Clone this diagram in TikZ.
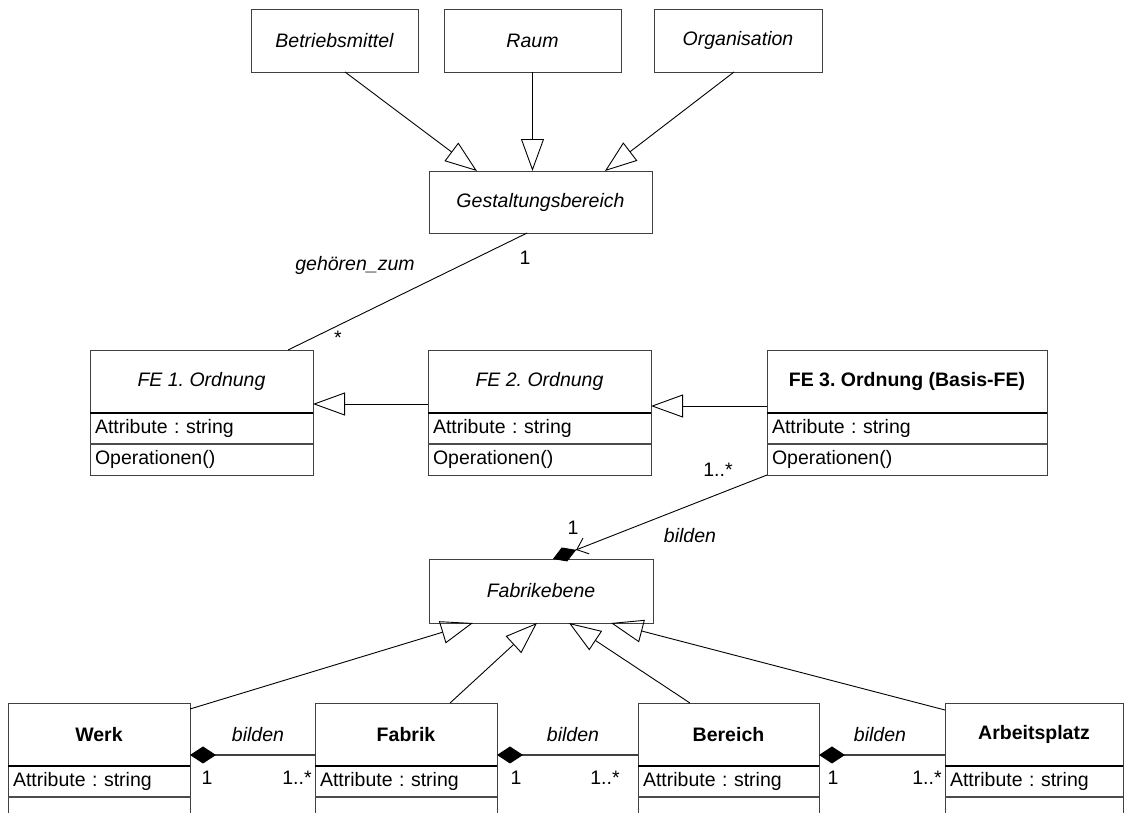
\documentclass[tikz,border=0pt]{standalone}
\usepackage{fontspec}
\setmainfont{Liberation Sans}
\usetikzlibrary{arrows.meta,calc}
\frenchspacing

% class symbol: title compartment, attribute row, operation row
\newcommand{\umlclass}[7]{%
  \pgfmathsetmacro{\rowtw}{#4-10}%
  \node[head, minimum width=#4pt] (#1) at (#2,#3) {#5};
  \node[row, text width=\rowtw pt] (#1a) at (#1.south west) {#6};
  \node[row, text width=\rowtw pt] (#1o) at (#1a.south west) {#7};
  \draw[outline] (#1.north west) rectangle (#1o.south east);
  \draw[sepmajor] (#1a.north west) -- (#1a.north east);
  \draw[sepminor] (#1o.north west) -- (#1o.north east);
}

\begin{document}
\begin{tikzpicture}[x=1pt,y=-1pt,
  every node/.style={font=\fontsize{19.5}{23}\selectfont},
  simplebox/.style={draw=black!75, line width=1pt, inner sep=0pt, outer sep=0pt,
    anchor=north west, align=center, font=\fontsize{19.5}{23}\selectfont\itshape},
  head/.style={inner sep=0pt, outer sep=0pt, anchor=north west, minimum height=63pt, align=center},
  row/.style={inner xsep=5pt, inner ysep=0pt, outer sep=0pt, anchor=north west,
    align=left, minimum height=31pt},
  outline/.style={draw=black!75, line width=1pt},
  sepmajor/.style={draw=black, line width=1.8pt},
  sepminor/.style={draw=black!70, line width=1.4pt},
  conn/.style={draw=black, line width=0.9pt},
  gen/.style={conn, -{Triangle[open, length=32pt, width=23pt, line width=0.9pt]}},
  comp/.style={draw=black!75, line width=1.1pt, -{Diamond[length=26pt, width=17pt, color=black, fill=black]}},
  compnav/.style={conn, -{Straight Barb[length=10pt, width=17pt, sep=0pt, line width=0.9pt]Diamond[length=25pt, width=15pt, sep=0pt, fill=black]}},
  lbl/.style={inner sep=0pt, font=\fontsize{19.5}{23}\selectfont},
  ilbl/.style={inner sep=0pt, font=\fontsize{19.5}{23}\selectfont\itshape}
]
\useasboundingbox (0,0) rectangle (1125,812);
\clip (0,0) rectangle (1125,812);

% top level generalisation
\node[simplebox, minimum width=167pt, minimum height=63pt] (betr) at (251,9) {Betriebsmittel};
\node[simplebox, minimum width=177pt, minimum height=63pt] (raum) at (444,9) {Raum};
\node[simplebox, minimum width=168pt, minimum height=63pt] (orga) at (654,9) {Organisation};
\node[simplebox, minimum width=223pt, minimum height=62pt] (gest) at (429,171) {Gestaltungsbereich};

\draw[gen] ($(betr.south west)!0.563!(betr.south east)$) -- ($(gest.north west)!0.215!(gest.north east)$);
\draw[gen] ($(raum.south west)!0.5!(raum.south east)$) -- ($(gest.north west)!0.464!(gest.north east)$);
\draw[gen] ($(orga.south west)!0.476!(orga.south east)$) -- ($(gest.north west)!0.789!(gest.north east)$);

% levels of the design elements
\umlclass{fe1}{90}{350}{223}{\itshape FE 1. Ordnung}{Attribute : string}{Operationen()}
\umlclass{fe2}{428}{350}{223}{\itshape FE 2. Ordnung}{Attribute : string}{Operationen()}
\umlclass{fe3}{767}{350}{280}{\bfseries FE 3. Ordnung (Basis-FE)}{Attribute : string}{Operationen()}

\draw[conn] ($(gest.south west)!0.44!(gest.south east)$) -- ($(fe1.north west)!0.888!(fe1.north east)$);
\node[ilbl] (lgz) at (355,265) {gehören\_zum};
\node[lbl] (lgz1) at (525,258) {1};
\node[lbl] (lgzs) at (338,338) {*};

\coordinate (g21) at ($(fe2.north west)!0.857!(fe2.south west)$);
\draw[gen] (g21) -- (g21 -| fe1.east);
\coordinate (g32) at ($(fe3.north west)!0.889!(fe3.south west)$);
\draw[gen] (g32) -- (g32 -| fe2.east);

% factory levels
\node[simplebox, minimum width=224pt, minimum height=64pt] (fab) at (429,559) {Fabrikebene};

\draw[compnav] (fe3o.south west) -- ($(fab.north west)!0.553!(fab.north east)$);
\node[lbl] (lfe3m) at (718,470) {1..*};
\node[lbl] (lfab1) at (573,528) {1};
\node[ilbl] (lfabb) at (690,536) {bilden};

\umlclass{werk}{8}{703}{182}{\bfseries Werk}{Attribute : string}{}
\umlclass{fabrik}{315}{703}{182}{\bfseries Fabrik}{Attribute : string}{}
\umlclass{bereich}{638}{703}{181}{\bfseries Bereich}{Attribute : string}{}
\umlclass{arbeit}{945}{703}{178}{\bfseries Arbeitsplatz}{Attribute : string}{}

\draw[gen] ($(werk.north east)+(0,6)$) -- ($(fab.south west)!0.196!(fab.south east)$);
\draw[gen] ($(fabrik.north west)!0.742!(fabrik.north east)$) -- ($(fab.south west)!0.482!(fab.south east)$);
\draw[gen] ($(bereich.north west)!0.287!(bereich.north east)$) -- ($(fab.south west)!0.625!(fab.south east)$);
\draw[gen] ($(arbeit.north west)+(0,7)$) -- ($(fab.south west)!0.8125!(fab.south east)$);

\coordinate (b1) at ($(fabrik.north west)!0.825!(fabrik.south west)$);
\draw[comp] (b1) -- (b1 -| werk.east);
\coordinate (b2) at ($(bereich.north west)!0.825!(bereich.south west)$);
\draw[comp] (b2) -- (b2 -| fabrik.east);
\coordinate (b3) at ($(arbeit.north west)!0.825!(arbeit.south west)$);
\draw[comp] (b3) -- (b3 -| bereich.east);

\node[ilbl] (lb1) at (258,735) {bilden};
\node[lbl] (lb1a) at (207,778) {1};
\node[lbl] (lb1b) at (297,778) {1..*};
\node[ilbl] (lb2) at (573,735) {bilden};
\node[lbl] (lb2a) at (516,778) {1};
\node[lbl] (lb2b) at (605,778) {1..*};
\node[ilbl] (lb3) at (880,735) {bilden};
\node[lbl] (lb3a) at (833,778) {1};
\node[lbl] (lb3b) at (927,778) {1..*};
\end{tikzpicture}
\end{document}
